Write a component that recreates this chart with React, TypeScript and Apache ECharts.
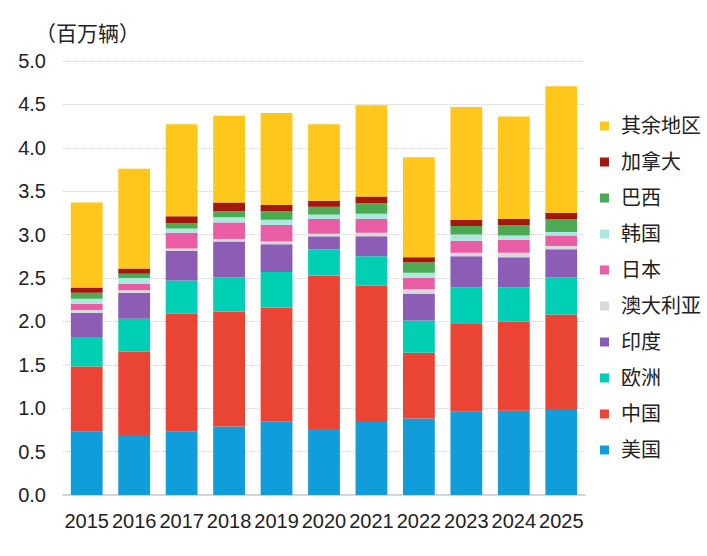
import { useEffect, useRef } from 'react';
import * as echarts from 'echarts';

const years = ['2015', '2016', '2017', '2018', '2019', '2020', '2021', '2022', '2023', '2024', '2025'];
const yTicks = [0, 0.5, 1, 1.5, 2, 2.5, 3, 3.5, 4, 4.5, 5];

// million vehicles per region
const usa = [0.73, 0.69, 0.73, 0.79, 0.85, 0.76, 0.84, 0.88, 0.96, 0.97, 0.99];
const china = [0.75, 0.96, 1.36, 1.32, 1.31, 1.77, 1.57, 0.76, 1.01, 1.03, 1.09];
const europe = [0.34, 0.38, 0.38, 0.4, 0.41, 0.3, 0.34, 0.37, 0.42, 0.39, 0.43];
const india = [0.28, 0.3, 0.34, 0.41, 0.32, 0.15, 0.23, 0.31, 0.36, 0.35, 0.32];
const australia = [0.03, 0.03, 0.03, 0.03, 0.03, 0.03, 0.04, 0.05, 0.04, 0.05, 0.04];
const japan = [0.07, 0.07, 0.18, 0.19, 0.19, 0.17, 0.16, 0.13, 0.14, 0.15, 0.12];
const korea = [0.06, 0.07, 0.05, 0.06, 0.06, 0.05, 0.06, 0.06, 0.07, 0.05, 0.04];
const brazil = [0.07, 0.05, 0.06, 0.07, 0.1, 0.09, 0.12, 0.12, 0.1, 0.12, 0.15];
const canada = [0.06, 0.06, 0.08, 0.1, 0.07, 0.07, 0.08, 0.06, 0.07, 0.07, 0.07];
const others = [0.98, 1.15, 1.06, 1.0, 1.06, 0.88, 1.05, 1.15, 1.3, 1.18, 1.46];

const seriesList = [
  { name: '美国', data: usa, color: '#119DDA' },
  { name: '中国', data: china, color: '#EA4435' },
  { name: '欧洲', data: europe, color: '#00CFB4' },
  { name: '印度', data: india, color: '#8B5DB5' },
  { name: '澳大利亚', data: australia, color: '#D9D9D9' },
  { name: '日本', data: japan, color: '#E95DA5' },
  { name: '韩国', data: korea, color: '#A9E9E0' },
  { name: '巴西', data: brazil, color: '#4CAA53' },
  { name: '加拿大', data: canada, color: '#A3170D' },
  { name: '其余地区', data: others, color: '#FFC71C' }
];

const FONT = '"Liberation Sans", "Noto Sans CJK SC", sans-serif';

const App = () => {
  const chartRef = useRef<HTMLDivElement>(null);

  useEffect(() => {
    if (!chartRef.current) return;
    const chart = echarts.init(chartRef.current, null, { renderer: 'svg' });

    chart.setOption({
      animation: false,
      textStyle: { fontFamily: FONT },
      title: {
        text: '（百万辆）',
        left: 30,
        top: 18,
        textStyle: { fontSize: 21, fontWeight: 'normal', color: '#222', fontFamily: FONT }
      },
      legend: {
        orient: 'vertical',
        left: 595,
        top: 111,
        icon: 'rect',
        itemWidth: 9,
        itemHeight: 9,
        itemGap: 16,
        data: seriesList.map((s) => s.name).reverse(),
        textStyle: {
          fontSize: 20,
          lineHeight: 20,
          color: '#222',
          fontFamily: FONT,
          padding: [0, 0, 0, 7]
        }
      },
      grid: {
        left: 63,
        right: 122,
        top: 61,
        bottom: 61
      },
      xAxis: {
        type: 'category',
        data: years,
        axisTick: { show: false },
        axisLine: { lineStyle: { color: '#d6d6d6', width: 2 } },
        axisLabel: { interval: 0, fontSize: 20, color: '#222', margin: 16, fontFamily: FONT }
      },
      yAxis: {
        type: 'value',
        min: yTicks[0],
        max: yTicks[yTicks.length - 1],
        interval: 0.5,
        axisLine: { show: false },
        axisTick: { show: false },
        axisLabel: {
          fontSize: 20,
          color: '#222',
          margin: 17,
          fontFamily: FONT,
          formatter: (v: number) => v.toFixed(1)
        },
        splitLine: { lineStyle: { color: '#d0d0d0', type: 'dotted', width: 1 } }
      },
      series: seriesList.map((s) => ({
        name: s.name,
        type: 'bar',
        stack: 'total',
        barCategoryGap: '33%',
        data: s.data,
        itemStyle: { color: s.color }
      }))
    });

    return () => {
      chart.dispose();
    };
  }, []);

  return (
    <div
      ref={chartRef}
      style={{ position: 'fixed', left: 0, top: 0, width: '707px', height: '556px', background: '#fff' }}
    />
  );
};

export default App;
